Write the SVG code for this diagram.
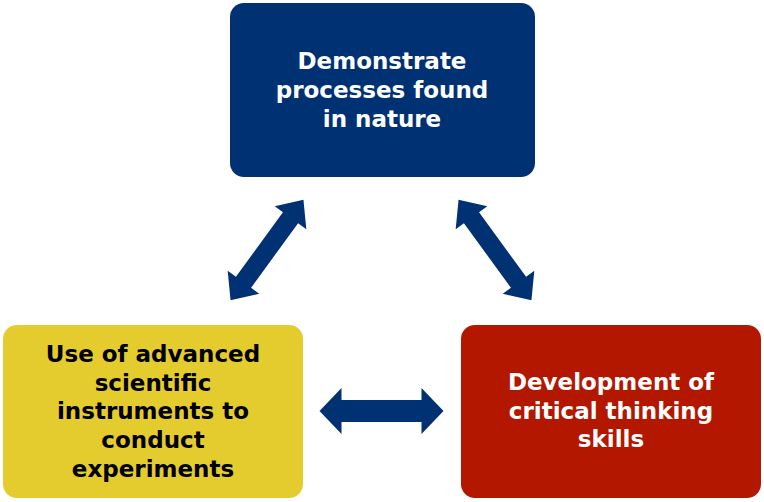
<svg xmlns="http://www.w3.org/2000/svg" width="764" height="502" viewBox="0 0 764 502">
<style>
.t{font-family:"DejaVu Sans",Verdana,sans-serif;font-weight:bold;font-size:23px;text-anchor:middle}
.w{fill:#fff}.k{fill:#000}
.a{fill:#003173}
</style>
<defs>
<path id="da" d="M-62,0 L-40,-23 L-40,-11 L40,-11 L40,-23 L62,0 L40,23 L40,11 L-40,11 L-40,23 Z"/>
</defs>
<rect width="764" height="502" fill="#fff"/>
<g id="top"><rect x="230" y="3" width="305" height="174" rx="14" fill="#003173"/>
<text class="t w" x="382" y="69">Demonstrate</text><text class="t w" x="382" y="98">processes found</text><text class="t w" x="382" y="127">in nature</text></g>
<g id="left"><rect x="3" y="325" width="300" height="173" rx="14" fill="#E5CC2E"/>
<text class="t k" x="153" y="362">Use of advanced</text><text class="t k" x="153" y="391">scientific</text><text class="t k" x="153" y="419">instruments to</text><text class="t k" x="153" y="448">conduct</text><text class="t k" x="153" y="477">experiments</text></g>
<g id="right"><rect x="461" y="325" width="300" height="173" rx="14" fill="#B31700"/>
<text class="t w" x="611" y="390">Development of</text><text class="t w" x="611" y="419">critical thinking</text><text class="t w" x="611" y="447">skills</text></g>
<g id="connectors" class="a">
<use href="#da" transform="translate(381.5,411)"/>
<use href="#da" transform="translate(267,250) rotate(-54) scale(1,0.85)"/>
<use href="#da" transform="translate(495,250) rotate(54) scale(1,0.85)"/>
</g>
</svg>
